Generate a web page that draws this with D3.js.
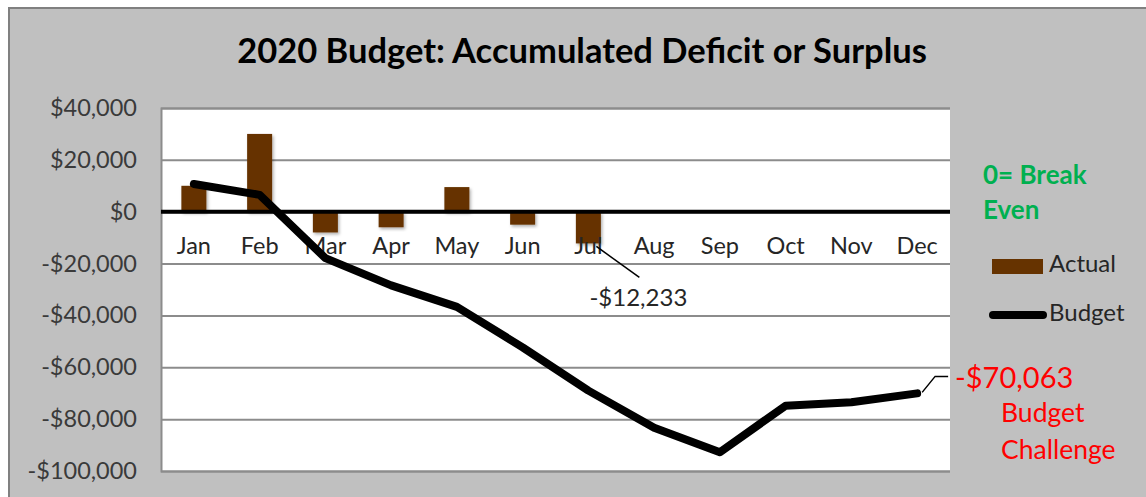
<!DOCTYPE html>
<html>
<head>
<meta charset="utf-8">
<script src="https://cdn.jsdelivr.net/npm/d3@7"></script>
<style>
body{margin:0;background:#fff;}
text{font-family:Lato,"Open Sans",sans-serif;}
</style>
</head>
<body>
<svg id="chart"></svg>
<script>
var width = 1146, height = 497;
var plot = {left: 161, right: 950, top: 108, bottom: 471};

// data
var months = ["Jan","Feb","Mar","Apr","May","Jun","Jul","Aug","Sep","Oct","Nov","Dec"];
var actual = [10000, 30000, -8000, -6000, 9500, -5000, -12233, null, null, null, null, null];
var budget = [10700, 6500, -17900, -28400, -36700, -52300, -69000, -83300, -92800, -74800, -73500, -70063];
var yTicks = [40000, 20000, 0, -20000, -40000, -60000, -80000, -100000];

var svg = d3.select("#chart")
	.attr("width", width)
	.attr("height", height);

// shadow under the bars
var defs = svg.append("defs");
var f = defs.append("filter").attr("id","shadow").attr("x","-20%").attr("y","-20%").attr("width","150%").attr("height","150%");
f.append("feDropShadow").attr("dx",1.5).attr("dy",2).attr("stdDeviation",1.5).attr("flood-color","#000").attr("flood-opacity",0.3);

// outer chart area
svg.append("rect").attr("x",9).attr("y",8).attr("width",width).attr("height",height)
	.attr("fill","#c0c0c0").attr("stroke","#808080").attr("stroke-width",2);

svg.append("text")
	.attr("x", 582).attr("y", 54)
	.attr("text-anchor","middle").attr("dominant-baseline","middle")
	.attr("font-size","34.5px").attr("font-weight","bold").attr("fill","#000")
	.text("2020 Budget: Accumulated Deficit or Surplus");

var x = d3.scaleBand().domain(months).range([plot.left, plot.right]).padding(0);
var y = d3.scaleLinear().domain([-100000, 40000]).range([plot.bottom, plot.top]);

// plot area
svg.append("rect")
	.attr("x", plot.left).attr("y", plot.top)
	.attr("width", plot.right - plot.left).attr("height", plot.bottom - plot.top)
	.attr("fill","#fff");

// gridlines + y labels
var yAxis = d3.axisLeft(y).tickValues(yTicks)
	.tickSize(-(plot.right - plot.left)).tickPadding(24)
	.tickFormat(function(d){ return (d < 0 ? "-$" : "$") + d3.format(",")(Math.abs(d)); });
var gy = svg.append("g").attr("transform","translate("+plot.left+",0)").call(yAxis);
gy.select(".domain").attr("stroke","#8c8c8c").attr("stroke-width",2);
gy.selectAll(".tick line").attr("stroke","#8c8c8c").attr("stroke-width",2);
gy.selectAll(".tick text").attr("font-size","23.5px").attr("fill","#3a3a3a").attr("font-family","Lato,sans-serif");

// bars
var barW = 25;
svg.append("g").selectAll("rect")
	.data(months.map(function(m,i){ return {m:m, v:actual[i]}; }).filter(function(d){ return d.v != null; }))
	.join("rect")
	.attr("x", function(d){ return x(d.m) + x.bandwidth()/2 - barW/2; })
	.attr("y", function(d){ return y(Math.max(0, d.v)); })
	.attr("width", barW)
	.attr("height", function(d){ return Math.abs(y(d.v) - y(0)); })
	.attr("fill","#663300")
	.attr("filter","url(#shadow)");

// zero line
svg.append("line")
	.attr("x1", plot.left).attr("x2", plot.right)
	.attr("y1", y(0)).attr("y2", y(0))
	.attr("stroke","#000").attr("stroke-width",4);

// month labels
svg.append("g").selectAll("text")
	.data(months)
	.join("text")
	.attr("x", function(d){ return x(d) + x.bandwidth()/2; })
	.attr("y", y(0) + 36)
	.attr("text-anchor","middle").attr("dominant-baseline","middle")
	.attr("font-size","23.5px").attr("fill","#262626")
	.text(function(d){ return d; });

// budget line
var line = d3.line()
	.x(function(d,i){ return x(months[i]) + x.bandwidth()/2; })
	.y(function(d){ return y(d); });
svg.append("path")
	.datum(budget)
	.attr("d", line)
	.attr("fill","none").attr("stroke","#000").attr("stroke-width",8)
	.attr("stroke-linejoin","round").attr("stroke-linecap","round");

// Jul annotation
var julX = x("Jul") + x.bandwidth()/2;
svg.append("line")
	.attr("x1", julX + 8).attr("y1", y(actual[6]) + 3)
	.attr("x2", julX + 51).attr("y2", y(actual[6]) + 34)
	.attr("stroke","#000").attr("stroke-width",1.5);
svg.append("text")
	.attr("x", julX + 50).attr("y", y(actual[6]) + 56)
	.attr("text-anchor","middle").attr("dominant-baseline","middle")
	.attr("font-size","24px").attr("fill","#262626")
	.text("-$" + d3.format(",")(Math.abs(actual[6])));

// Dec annotation
var decX = x("Dec") + x.bandwidth()/2;
var decY = y(budget[11]);
svg.append("path")
	.attr("d", "M" + (decX + 5) + "," + (decY - 1) + "L" + (decX + 18) + "," + (decY - 17) + "L" + (decX + 31) + "," + (decY - 17))
	.attr("fill","none").attr("stroke","#000").attr("stroke-width",1.5);
svg.append("text")
	.attr("x", 955).attr("y", decY - 13)
	.attr("dominant-baseline","middle")
	.attr("font-size","29px").attr("fill","#ff0000")
	.text("-$" + d3.format(",")(Math.abs(budget[11])));
svg.append("text")
	.attr("x", 1001).attr("y", 415)
	.attr("dominant-baseline","middle")
	.attr("font-size","26.5px").attr("fill","#ff0000")
	.text("Budget");
svg.append("text")
	.attr("x", 1001).attr("y", 452)
	.attr("dominant-baseline","middle")
	.attr("font-size","26.5px").attr("fill","#ff0000")
	.text("Challenge");

// break even note
svg.append("text")
	.attr("x", 983).attr("y", 177)
	.attr("dominant-baseline","middle")
	.attr("font-size","26px").attr("font-weight","bold").attr("fill","#00b050")
	.text("0= Break");
svg.append("text")
	.attr("x", 983).attr("y", 212)
	.attr("dominant-baseline","middle")
	.attr("font-size","26px").attr("font-weight","bold").attr("fill","#00b050")
	.text("Even");

// legend
var legend = svg.append("g").attr("id","legend");
legend.append("rect")
	.attr("x", 992).attr("y", 259).attr("width", 51).attr("height", 15)
	.attr("fill","#663300");
legend.append("text")
	.attr("x", 1049).attr("y", 266)
	.attr("dominant-baseline","middle")
	.attr("font-size","24px").attr("fill","#262626")
	.text("Actual");
legend.append("line")
	.attr("x1", 993).attr("x2", 1043).attr("y1", 315).attr("y2", 315)
	.attr("stroke","#000").attr("stroke-width",8).attr("stroke-linecap","round");
legend.append("text")
	.attr("x", 1049).attr("y", 315)
	.attr("dominant-baseline","middle")
	.attr("font-size","24px").attr("fill","#262626")
	.text("Budget");
</script>
</body>
</html>
